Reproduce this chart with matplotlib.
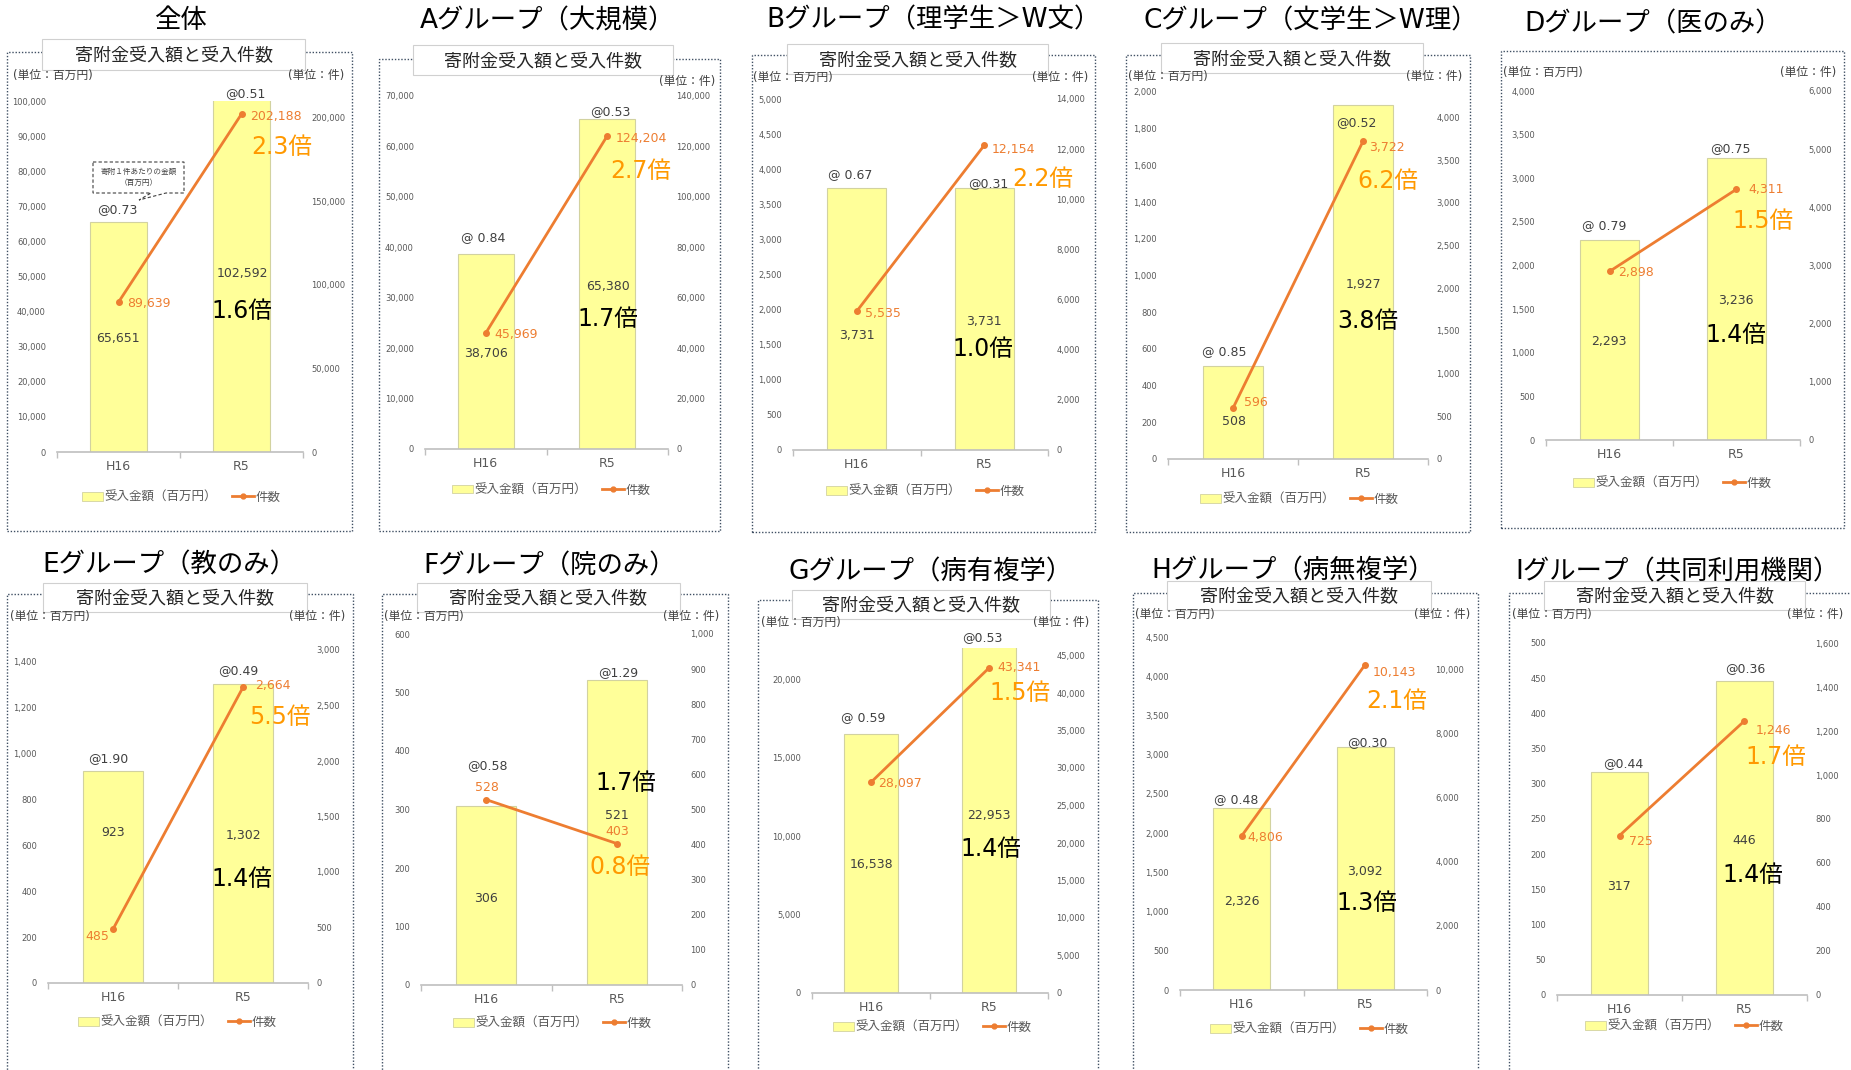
"""Donations received (amount and number of cases), H16 vs R5, by university group."""
import numpy as np
import matplotlib
matplotlib.use("Agg")
import matplotlib.pyplot as plt
from matplotlib.patches import Rectangle, Polygon
from matplotlib.lines import Line2D

plt.rcParams["font.family"] = ["DejaVu Sans", "Noto Sans CJK JP"]

W, H = 1851, 1070

years = ["H16", "R5"]
groups = ["全体", "Aグループ（大規模）", "Bグループ（理学生＞W文）",
          "Cグループ（文学生＞W理）", "Dグループ（医のみ）",
          "Eグループ（教のみ）", "Fグループ（院のみ）", "Gグループ（病有複学）",
          "Hグループ（病無複学）", "Iグループ（共同利用機関）"]
has_subtitle = [True, True, True, True, False, True, True, True, True, True]

# 受入金額（百万円）
amount_h16 = [65651, 38706, 3731, 508, 2293, 923, 306, 16538, 2326, 317]
amount_r5 = [102592, 65380, 3731, 1927, 3236, 1302, 521, 22953, 3092, 446]
# 件数
count_h16 = [89639, 45969, 5535, 596, 2898, 485, 528, 28097, 4806, 725]
count_r5 = [202188, 124204, 12154, 3722, 4311, 2664, 403, 43341, 10143, 1246]
# 寄附１件あたりの金額（百万円）
per_case_h16 = ["@0.73", "@ 0.84", "@ 0.67", "@ 0.85", "@ 0.79",
                "@1.90", "@0.58", "@ 0.59", "@ 0.48", "@0.44"]
per_case_r5 = ["@0.51", "@0.53", "@0.31", "@0.52", "@0.75",
               "@0.49", "@1.29", "@0.53", "@0.30", "@0.36"]

# axis ranges: (left max, left step, right max, right step)
axis_ranges = [(100000, 10000, 210000, 50000), (70000, 10000, 140000, 20000),
               (5000, 500, 14000, 2000), (2000, 200, 4300, 500),
               (4000, 500, 6000, 1000), (1450, 200, 3000, 500),
               (600, 100, 1000, 100), (22000, 5000, 46000, 5000),
               (4500, 500, 11000, 2000), (500, 50, 1600, 200)]

# panel layout in pixels (x from left, y from top)
layout = [
    dict(title=(180, 18), frame=(7, 52, 352, 531), sub=(42, 39, 305, 70),
         units=(13, 344, 74), plot=(57, 303, 452, 101), legend=(181, 497),
         amt=[(118, 337), (242, 272)], cnt=[(127, 302, "left"), (250, 115, "left")],
         at=[(117, 208), (245, 92)], r_cnt=(282, 144), r_amt=(242, 309)),
    dict(title=(547, 18), frame=(379, 59, 720, 531), sub=(413, 45, 673, 75),
         units=(None, 715, 80), plot=(425, 668, 449, 96), legend=(551, 490),
         amt=[(486, 352), (608, 285)], cnt=[(494, 333, "left"), (616, 137, "left")],
         at=[(483, 236), (610, 110)], r_cnt=(641, 169), r_amt=(608, 317)),
    dict(title=(934, 17), frame=(752, 55, 1095, 532), sub=(787, 44, 1048, 74),
         units=(753, 1088, 76), plot=(793, 1048, 450, 99), legend=(925, 491),
         amt=[(857, 334), (984, 320)], cnt=[(865, 312, "left"), (992, 148, "left")],
         at=[(850, 173), (988, 182)], r_cnt=(1043, 176), r_amt=(983, 346)),
    dict(title=(1311, 18), frame=(1126, 55, 1470, 532), sub=(1161, 43, 1423, 73),
         units=(1128, 1462, 75), plot=(1168, 1428, 459, 92), legend=(1299, 499),
         amt=[(1234, 420), (1363, 283)], cnt=[(1244, 401, "left"), (1369, 146, "left")],
         at=[(1224, 350), (1356, 121)], r_cnt=(1388, 179), r_amt=(1368, 318)),
    dict(title=(1653, 21), frame=(1501, 51, 1844, 528), sub=None,
         units=(1503, 1836, 71), plot=(1546, 1800, 440, 91), legend=(1672, 483),
         amt=[(1609, 340), (1736, 299)], cnt=[(1618, 271, "left"), (1748, 188, "left")],
         at=[(1604, 224), (1730, 147)], r_cnt=(1763, 219), r_amt=(1736, 333)),
    dict(title=(169, 562), frame=(7, 594, 353, 1085), sub=(43, 583, 307, 612),
         units=(10, 345, 615), plot=(48, 308, 983, 650), legend=(177, 1022),
         amt=[(113, 831), (243, 834)], cnt=[(109, 935, "right"), (255, 684, "left")],
         at=[(108, 757), (238, 669)], r_cnt=(280, 714), r_amt=(242, 877)),
    dict(title=(550, 563), frame=(382, 594, 728, 1085), sub=(417, 583, 680, 612),
         units=(384, 719, 615), plot=(421, 682, 985, 634), legend=(552, 1023),
         amt=[(486, 897), (617, 814)], cnt=[(487, 786, "center"), (617, 830, "center")],
         at=[(487, 764), (618, 671)], r_cnt=(620, 865), r_amt=(626, 781)),
    dict(title=(931, 569), frame=(758, 600, 1098, 1085), sub=(792, 590, 1050, 619),
         units=(761, 1089, 621), plot=(812, 1048, 993, 648), legend=(932, 1027),
         amt=[(871, 863), (989, 814)], cnt=[(878, 782, "left"), (997, 666, "left")],
         at=[(863, 716), (982, 636)], r_cnt=(1020, 691), r_amt=(991, 846)),
    dict(title=(1293, 568), frame=(1133, 593, 1478, 1085), sub=(1167, 581, 1431, 610),
         units=(1135, 1470, 613), plot=(1180, 1427, 990, 637), legend=(1309, 1029),
         amt=[(1242, 900), (1365, 870)], cnt=[(1247, 836, "left"), (1373, 671, "left")],
         at=[(1236, 798), (1367, 741)], r_cnt=(1397, 698), r_amt=(1367, 901)),
    dict(title=(1678, 569), frame=(1509, 593, 1858, 1085), sub=(1544, 581, 1805, 610),
         units=(1512, 1843, 613), plot=(1557, 1807, 995, 643), legend=(1684, 1026),
         amt=[(1619, 885), (1744, 839)], cnt=[(1629, 840, "left"), (1756, 729, "left")],
         at=[(1623, 762), (1745, 667)], r_cnt=(1776, 754), r_amt=(1753, 873)),
]

BAR = "#FFFF99"
BAR_EDGE = "#D2D2A0"
LINE = "#ED7D31"
RATIO_ORANGE = "#FF9900"
GRAY = "#595959"
DARK = "#404040"


def fx(x):
    return x / W


def fy(y):
    return 1 - y / H


def put(fig, x, y, s, **kw):
    kw.setdefault("ha", "center")
    kw.setdefault("va", "center_baseline")
    fig.text(fx(x), fy(y), s, **kw)


thousands = matplotlib.ticker.FuncFormatter(lambda v, p: f"{int(v):,}")

fig = plt.figure(figsize=(W / 100, H / 100), dpi=100)
fig.patch.set_facecolor("white")
xs = np.arange(len(years))

for i, name in enumerate(groups):
    lay = layout[i]
    lmax, lstep, rmax, rstep = axis_ranges[i]
    amounts = [amount_h16[i], amount_r5[i]]
    counts = [count_h16[i], count_r5[i]]

    # dotted outer frame
    fx0, fy0, fx1, fy1 = lay["frame"]
    fig.add_artist(Rectangle((fx(fx0), fy(fy1)), (fx1 - fx0) / W, (fy1 - fy0) / H,
                             transform=fig.transFigure, fill=False,
                             edgecolor="#3F4F63", linewidth=1.0,
                             linestyle=(0, (1, 1.3)), zorder=1))

    put(fig, *lay["title"], name, fontsize=19, color="black")

    if has_subtitle[i]:
        sx0, sy0, sx1, sy1 = lay["sub"]
        fig.add_artist(Rectangle((fx(sx0), fy(sy1)), (sx1 - sx0) / W, (sy1 - sy0) / H,
                                 transform=fig.transFigure, facecolor="white",
                                 edgecolor="#D0D0D0", linewidth=0.8, zorder=2))
        put(fig, (sx0 + sx1) / 2, (sy0 + sy1) / 2, "寄附金受入額と受入件数",
            fontsize=13, color="#262626", zorder=3)

    ux_l, ux_r, uy = lay["units"]
    if ux_l is not None:
        put(fig, ux_l, uy, "(単位：百万円)", ha="left", fontsize=8.5, color=DARK)
    put(fig, ux_r, uy, "(単位：件)", ha="right", fontsize=8.5, color=DARK)

    px0, px1, pyz, pyt = lay["plot"]
    ax = fig.add_axes([fx(px0), fy(pyz), (px1 - px0) / W, (pyz - pyt) / H])
    ax.bar(xs, amounts, width=0.46, color=BAR, edgecolor=BAR_EDGE,
           linewidth=0.8, zorder=2)
    ax.set_xlim(-0.5, 1.5)
    ax.set_ylim(0, lmax)
    ax.set_yticks(range(0, lmax + 1, lstep))
    ax.yaxis.set_major_formatter(thousands)
    ax.tick_params(axis="y", length=0, pad=8, labelsize=6, labelcolor=GRAY)
    ax.set_xticks(xs, years)
    ax.set_xticks([-0.5, 0.5, 1.5], minor=True)
    ax.tick_params(axis="x", which="major", length=0, pad=6, labelsize=9,
                   labelcolor=GRAY)
    ax.tick_params(axis="x", which="minor", length=4, width=1.0,
                   color="#BFBFBF", direction="out")
    for side in ("left", "right", "top"):
        ax.spines[side].set_visible(False)
    ax.spines["bottom"].set_color("#BFBFBF")
    ax.spines["bottom"].set_linewidth(1.2)
    ax.patch.set_visible(False)

    ax2 = ax.twinx()
    ax2.plot(xs, counts, color=LINE, linewidth=2.0, marker="o", markersize=4,
             solid_capstyle="round", zorder=3)
    ax2.set_ylim(0, rmax)
    ax2.set_yticks(range(0, rmax + 1, rstep))
    ax2.yaxis.set_major_formatter(thousands)
    ax2.tick_params(axis="y", length=0, pad=6, labelsize=6, labelcolor=GRAY)
    for side in ax2.spines:
        ax2.spines[side].set_visible(False)

    # value labels
    for k in range(2):
        put(fig, *lay["amt"][k], f"{amounts[k]:,}", fontsize=9, color=DARK)
        cx, cy, ha = lay["cnt"][k]
        put(fig, cx, cy, f"{counts[k]:,}", ha=ha, fontsize=9, color=LINE)
    put(fig, *lay["at"][0], per_case_h16[i], fontsize=9, color=DARK)
    put(fig, *lay["at"][1], per_case_r5[i], fontsize=9, color=DARK)

    put(fig, *lay["r_cnt"], f"{counts[1] / counts[0]:.1f}倍", fontsize=17,
        color=RATIO_ORANGE)
    put(fig, *lay["r_amt"], f"{amounts[1] / amounts[0]:.1f}倍", fontsize=17,
        color="black")

    handles = [Rectangle((0, 0), 1, 1, facecolor=BAR, edgecolor=BAR_EDGE, linewidth=0.6),
               Line2D([], [], color=LINE, linewidth=2.0, marker="o", markersize=3.5)]
    lx, ly = lay["legend"]
    fig.legend(handles, ["受入金額（百万円）", "件数"], loc="center",
               bbox_to_anchor=(fx(lx), fy(ly)), bbox_transform=fig.transFigure,
               ncol=2, frameon=False, fontsize=9, labelcolor=GRAY,
               handlelength=1.7, handleheight=0.7, handletextpad=0.15,
               columnspacing=1.2, borderpad=0)

# callout explaining the "@" figures (全体 panel)
tail = [(93, 162), (184, 162), (184, 193), (166, 193), (139, 200),
        (151, 193), (93, 193)]
fig.add_artist(Polygon([(fx(x), fy(y)) for x, y in tail], closed=True,
                       transform=fig.transFigure, facecolor="white",
                       edgecolor="#404040", linewidth=0.8, linestyle=(0, (3, 2)),
                       zorder=4))
put(fig, 138.5, 177, "寄附１件あたりの金額\n（百万円）", fontsize=5.5,
    color=DARK, linespacing=1.3, va="center", zorder=5)

fig.savefig("out.png", dpi=100)
